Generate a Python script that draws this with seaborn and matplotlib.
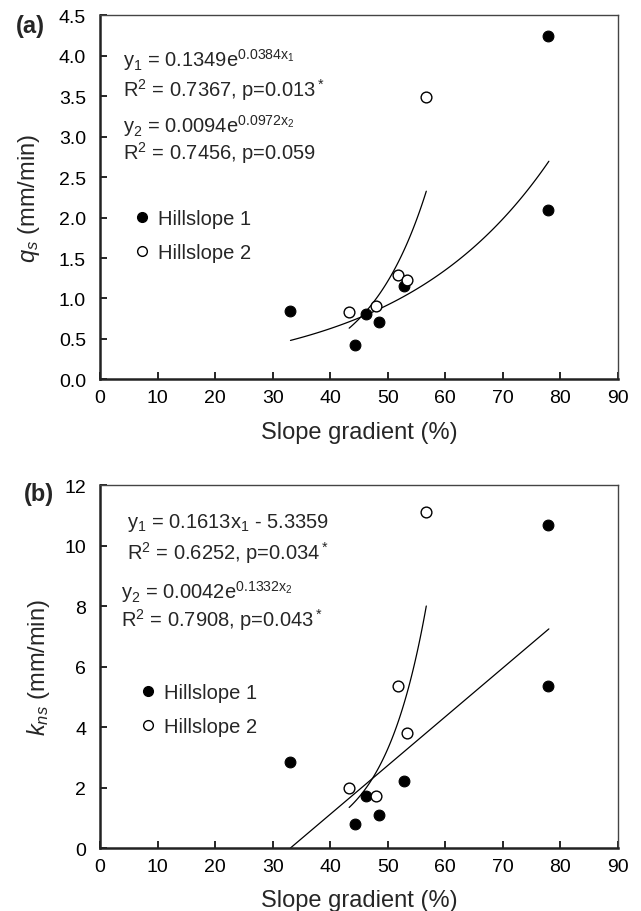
import numpy as np
import pandas as pd
import seaborn as sns
import matplotlib
matplotlib.use('Agg')
import matplotlib.pyplot as plt
from matplotlib.lines import Line2D

# slope gradient (%) of the plots, same for both panels
slope_h1 = [33.1, 44.3, 46.2, 48.5, 52.8, 77.9, 77.9]
slope_h2 = [43.3, 47.9, 51.8, 53.4, 56.7]

# (a) qs (mm/min)
qs_h1 = [0.85, 0.43, 0.81, 0.71, 1.15, 4.25, 2.09]
qs_h2 = [0.83, 0.905, 1.29, 1.23, 3.49]

# (b) kns (mm/min)
kns_h1 = [2.86, 0.80, 1.73, 1.10, 2.23, 10.67, 5.36]
kns_h2 = [1.98, 1.71, 5.36, 3.80, 11.11]

# fitted trend lines (coefficients from the chart) and their x-range
fit_a1 = (0.1349, 0.0384)
fit_a2 = (0.0094, 0.0972)
fit_b1 = (0.1613, -5.3359)
fit_b2 = (0.0042, 0.1332)
range_1 = (33.1, 78.0)
range_2 = (43.3, 56.7)
range_b1 = (33.1, 78.0)

eq_a = [r'y$_1$ = 0.1349e$^{0.0384\mathrm{x}_1}$',
        r'R$^2$ = 0.7367, p=0.013$^*$',
        r'y$_2$ = 0.0094e$^{0.0972\mathrm{x}_2}$',
        r'R$^2$ = 0.7456, p=0.059']
eq_b = [r'y$_1$ = 0.1613x$_1$ - 5.3359',
        r'R$^2$ = 0.6252, p=0.034$^*$',
        r'y$_2$ = 0.0042e$^{0.1332\mathrm{x}_2}$',
        r'R$^2$ = 0.7908, p=0.043$^*$']

sns.set_style('ticks')
plt.rcParams['font.family'] = ['Liberation Sans', 'DejaVu Sans']
plt.rcParams['mathtext.fontset'] = 'custom'
plt.rcParams['mathtext.rm'] = 'Liberation Sans'
plt.rcParams['mathtext.it'] = 'Liberation Sans:italic'
plt.rcParams['mathtext.bf'] = 'Liberation Sans:bold'

fig = plt.figure(figsize=(6.41, 9.12), dpi=100)
ax_a = fig.add_axes([0.156, 0.583, 0.808, 0.399])
ax_b = fig.add_axes([0.156, 0.069, 0.808, 0.398])


def exp_curve(coef, xr):
    x = np.linspace(xr[0], xr[1], 100)
    return x, coef[0] * np.exp(coef[1] * x)


def draw_panel(ax, y1, y2, curves, ylabel, ylim, yticks, fmt, eqs, eq_pos,
               leg_anchor, xpad, ypad):
    for xs, ys in curves:
        sns.lineplot(x=xs, y=ys, color='black', linewidth=0.9, ax=ax)
    sns.scatterplot(x=slope_h1, y=y1, color='black', edgecolor='black',
                    s=60, linewidth=0.8, ax=ax, zorder=3)
    sns.scatterplot(x=slope_h2, y=y2, facecolor='white', edgecolor='black',
                    s=60, linewidth=1.0, ax=ax, zorder=3)

    ax.set_xlim(0, 90)
    ax.set_ylim(*ylim)
    ax.set_xticks(range(0, 91, 10))
    ax.set_yticks(yticks)
    ax.set_yticklabels([fmt.format(v) for v in yticks])
    ax.tick_params(direction='in', length=5, width=1.2, labelsize=14, colors='black')
    ax.tick_params(axis='x', pad=7)
    ax.tick_params(axis='y', pad=10)
    for side in ['left', 'bottom']:
        ax.spines[side].set_linewidth(1.8)
        ax.spines[side].set_color('#222222')
    for side in ['top', 'right']:
        ax.spines[side].set_linewidth(1.0)
        ax.spines[side].set_color('#444444')
    ax.set_xlabel('Slope gradient (%)', fontsize=17, labelpad=xpad)
    ax.set_ylabel(ylabel, fontsize=17, labelpad=ypad)

    for txt, (x, y) in zip(eqs, eq_pos):
        ax.text(x, y, txt, transform=ax.transAxes, fontsize=14.5, va='center', ha='left')

    handles = [Line2D([], [], marker='o', linestyle='none', markersize=7,
                      markerfacecolor='black', markeredgecolor='black'),
               Line2D([], [], marker='o', linestyle='none', markersize=7,
                      markerfacecolor='white', markeredgecolor='black')]
    ax.legend(handles, ['Hillslope 1', 'Hillslope 2'], loc='upper left',
              bbox_to_anchor=leg_anchor, frameon=False, fontsize=14.5,
              handlelength=0.8, handletextpad=0.4, borderpad=0, borderaxespad=0,
              labelspacing=0.75)


curves_a = [exp_curve(fit_a1, range_1), exp_curve(fit_a2, range_2)]
draw_panel(ax_a, qs_h1, qs_h2, curves_a, r'$q_s$ (mm/min)', (0, 4.5),
           np.arange(0, 4.51, 0.5), '{:.1f}', eq_a,
           [(0.044, 0.879), (0.044, 0.797), (0.044, 0.70), (0.044, 0.624)],
           (0.066, 0.468), 11, 12)

xb = np.linspace(range_b1[0], range_b1[1], 100)
curves_b = [(xb, fit_b1[0] * xb + fit_b1[1]), exp_curve(fit_b2, range_2)]
draw_panel(ax_b, kns_h1, kns_h2, curves_b, r'$k_{ns}$ (mm/min)', (0, 12),
           np.arange(0, 12.1, 2), '{:.0f}', eq_b,
           [(0.052, 0.898), (0.052, 0.815), (0.041, 0.708), (0.041, 0.631)],
           (0.077, 0.456), 10, 9)

fig.text(30 / 641, 1 - 26 / 912, '(a)', fontsize=17, fontweight='bold', ha='center', va='center')
fig.text(39 / 641, 1 - 495 / 912, '(b)', fontsize=17, fontweight='bold', ha='center', va='center')

fig.savefig('out.png', dpi=100)
